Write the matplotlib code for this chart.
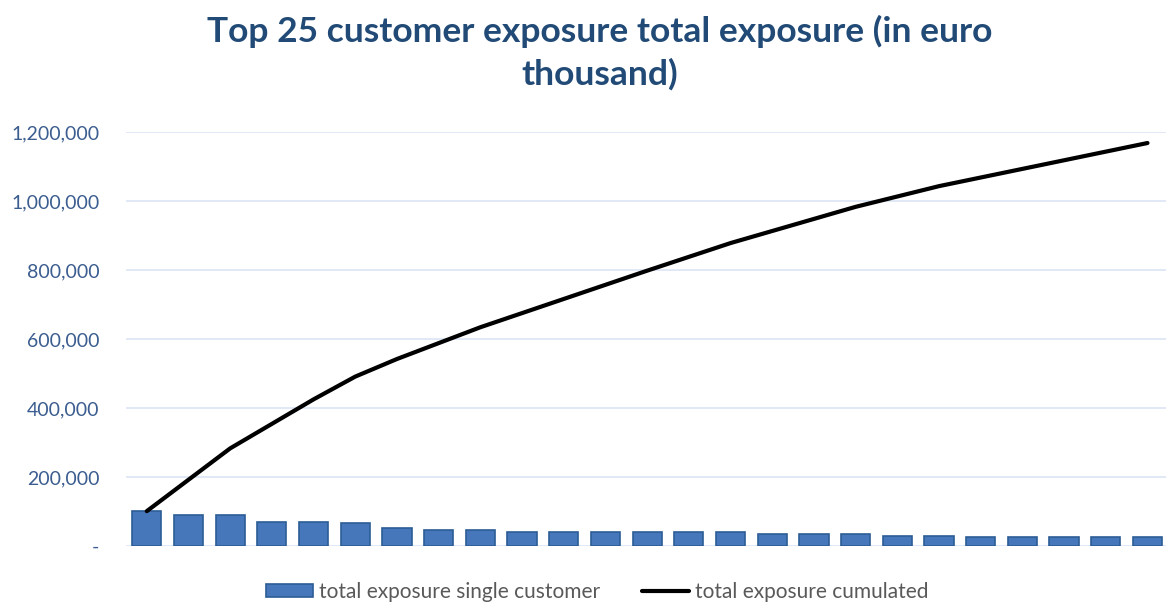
import matplotlib.pyplot as plt
import numpy as np
from matplotlib.ticker import FuncFormatter

# top 25 customers, exposure in euro thousand
customers = [f"C{i}" for i in range(1, 26)]
single_exposure = [101000, 91000, 91000, 71000, 71000, 66000, 51000, 46000, 46000, 41000,
                   41000, 41000, 41000, 40000, 40000, 35000, 35000, 35000, 30000, 30000,
                   25000, 25000, 25000, 25000, 25000]
cumulated_exposure = np.cumsum(single_exposure)

plt.rcParams['font.family'] = ['Lato', 'DejaVu Sans']

fig = plt.figure(figsize=(11.66, 6.04), dpi=100)
ax = fig.add_axes([0.108, 0.096, 0.894, 0.6855])

x = np.arange(len(customers))
bars = ax.bar(x, single_exposure, width=0.7, color='#4677BA', edgecolor='#2D5D96', linewidth=1.2,
              label='total exposure single customer', zorder=2)
line, = ax.plot(x, cumulated_exposure, color='black', linewidth=3, solid_capstyle='round',
                label='total exposure cumulated', zorder=3)

ax.set_xlim(-0.5, len(customers) - 0.5)
ax.set_ylim(0, 1200000)
ax.set_yticks(np.arange(0, 1200001, 200000))
ax.yaxis.set_major_formatter(FuncFormatter(lambda v, p: '-' if v == 0 else f'{int(v):,}'))
ax.set_xticks([])
ax.tick_params(axis='y', length=0, pad=19, labelsize=14, labelcolor='#3B5D8F')
ax.grid(axis='y', color='#DAE5F3', linewidth=1.2, zorder=0)
for s in ax.spines.values():
    s.set_visible(False)

fig.text(0.514, 0.975, 'Top 25 customer exposure total exposure (in euro\nthousand)',
         ha='center', va='top', fontsize=25.5, fontweight='bold', color='#214A76',
         linespacing=1.35)

leg = fig.legend([bars, line], ['total exposure single customer', 'total exposure cumulated'],
                 loc='center', bbox_to_anchor=(0.512, 0.02), ncol=2, frameon=False,
                 fontsize=15, handlelength=2.25, handleheight=0.55, handletextpad=0.3,
                 columnspacing=2.0)
for t in leg.get_texts():
    t.set_color('#595959')

plt.savefig('out.png')
